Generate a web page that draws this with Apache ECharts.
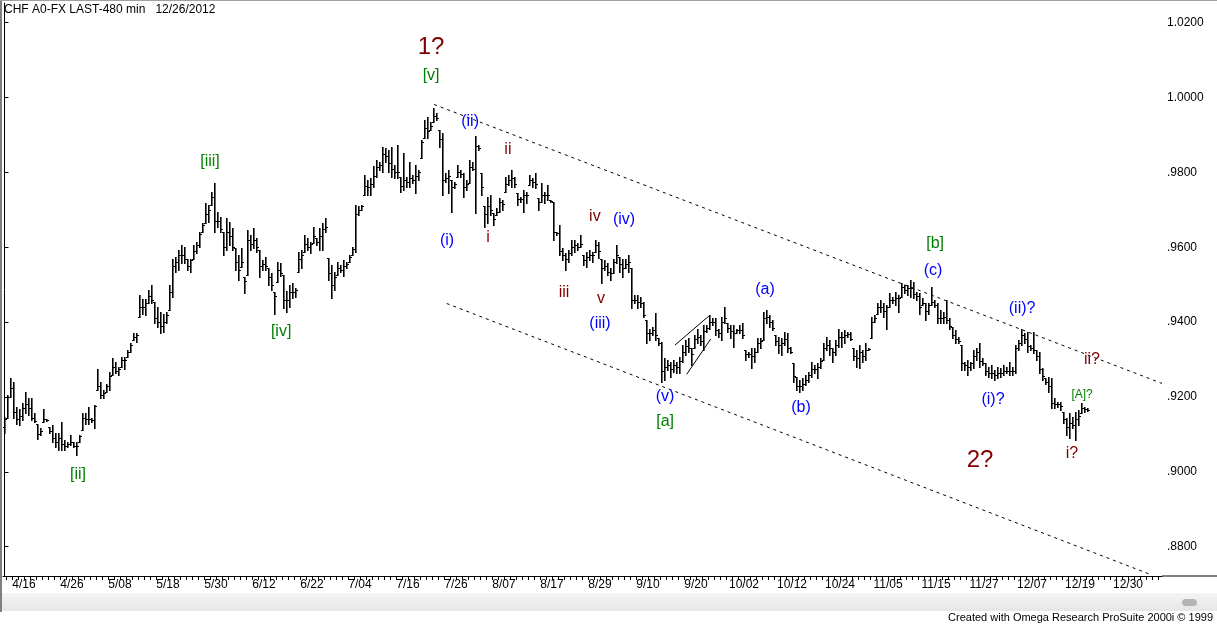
<!DOCTYPE html>
<html><head><meta charset="utf-8">
<script src="https://cdn.jsdelivr.net/npm/echarts@6/dist/echarts.min.js"></script>
<style>html,body{margin:0;padding:0;background:#fff;overflow:hidden}#c{width:1217px;height:625px}</style>
</head><body><div id="c"></div>
<script>
// ---------------- data ----------------
const chartTitle = 'CHF A0-FX LAST-480 min   12/26/2012';
const footerText = 'Created with Omega Research ProSuite 2000i \u00A9 1999';
const xTickLabels = ['4/16','4/26','5/08','5/18','5/30','6/12','6/22','7/04','7/16','7/26','8/07','8/17','8/29','9/10','9/20','10/02','10/12','10/24','11/05','11/15','11/27','12/07','12/19','12/30'];
const yTickValues = [0.88,0.90,0.92,0.94,0.96,0.98,1.00,1.02];

// price bars, in pips (1e-4), one bar per half trading day
const firstOpenPips = 9120;
const highPips = [
9147,9205,9250,9241,9174,9169,9183,9214,9196,9196,
9156,9129,9116,9169,9140,9120,9125,9103,9103,9134,
9085,9080,9098,9080,9080,9098,9156,9156,9174,9143,
9178,9274,9241,9218,9236,9267,9303,9294,9281,9308,
9308,9325,9343,9370,9370,9472,9463,9463,9486,9499,
9455,9441,9428,9423,9428,9499,9570,9575,9593,9606,
9602,9570,9570,9606,9615,9642,9664,9717,9713,9749,
9771,9695,9682,9642,9677,9668,9651,9597,9579,9597,
9521,9646,9633,9651,9624,9593,9566,9575,9544,9530,
9481,9561,9557,9526,9482,9499,9504,9490,9588,9593,
9633,9624,9615,9655,9624,9651,9664,9677,9571,9553,
9535,9562,9553,9566,9562,9580,9602,9713,9709,9713,
9793,9780,9784,9816,9833,9829,9869,9864,9860,9869,
9820,9873,9789,9851,9789,9829,9793,9820,9807,9887,
9940,9949,9936,9971,9958,9913,9905,9798,9807,9780,
9775,9820,9807,9798,9780,9833,9829,9896,9873,9798,
9709,9735,9740,9691,9704,9731,9726,9789,9793,9807,
9789,9744,9735,9753,9749,9793,9784,9798,9731,9771,
9749,9767,9726,9722,9642,9660,9597,9584,9593,9619,
9619,9611,9633,9580,9588,9593,9588,9619,9615,9570,
9566,9557,9544,9570,9606,9575,9570,9570,9579,9544,
9473,9473,9468,9455,9406,9383,9388,9424,9357,9348,
9303,9299,9294,9299,9294,9308,9339,9352,9357,9330,
9366,9383,9366,9392,9392,9419,9410,9410,9383,9415,
9441,9397,9392,9392,9383,9392,9397,9325,9321,9330,
9330,9357,9357,9428,9432,9419,9406,9366,9361,9357,
9374,9370,9334,9290,9254,9245,9250,9259,9268,9294,
9285,9290,9303,9343,9361,9352,9330,9352,9383,9374,
9379,9374,9374,9330,9326,9339,9326,9343,9330,9415,
9419,9450,9459,9450,9446,9477,9468,9481,9473,9504,
9499,9499,9513,9508,9481,9477,9464,9450,9450,9495,
9459,9450,9432,9428,9459,9410,9388,9379,9361,9339,
9294,9299,9294,9326,9330,9343,9303,9290,9281,9285,
9272,9281,9277,9285,9281,9294,9281,9339,9352,9383,
9370,9374,9339,9374,9326,9321,9277,9250,9254,9250,
9196,9187,9187,9161,9143,9156,9147,9161,9165,9183,
9174,9170];
const lowPips = [
9104,9143,9201,9143,9129,9125,9138,9156,9152,9138,
9134,9089,9098,9134,9136,9103,9080,9067,9058,9058,
9058,9067,9071,9067,9045,9080,9112,9129,9129,9134,
9116,9218,9196,9196,9214,9218,9259,9263,9259,9281,
9274,9308,9321,9352,9348,9414,9423,9419,9450,9450,
9397,9388,9370,9374,9397,9432,9468,9535,9539,9557,
9557,9539,9535,9570,9584,9602,9642,9664,9668,9713,
9642,9655,9642,9579,9593,9606,9593,9539,9512,9548,
9477,9526,9593,9597,9588,9521,9539,9539,9499,9486,
9423,9508,9522,9437,9428,9441,9464,9468,9535,9544,
9588,9593,9584,9611,9606,9593,9593,9642,9513,9464,
9486,9526,9535,9522,9544,9562,9580,9588,9686,9700,
9740,9740,9740,9762,9789,9807,9802,9829,9802,9789,
9784,9784,9749,9753,9762,9762,9771,9744,9780,9838,
9891,9891,9913,9936,9940,9869,9740,9775,9744,9695,
9758,9789,9789,9735,9753,9771,9807,9691,9860,9740,
9655,9664,9686,9660,9686,9695,9700,9749,9767,9762,
9762,9713,9722,9695,9717,9767,9762,9758,9700,9722,
9717,9726,9722,9620,9633,9580,9566,9539,9562,9579,
9588,9593,9602,9553,9548,9566,9562,9588,9571,9504,
9539,9526,9513,9530,9557,9535,9521,9544,9535,9437,
9450,9437,9441,9415,9343,9352,9366,9352,9339,9241,
9245,9272,9254,9268,9263,9263,9294,9312,9321,9285,
9330,9343,9339,9325,9374,9383,9392,9366,9361,9352,
9397,9374,9357,9334,9370,9370,9357,9299,9308,9277,
9294,9321,9330,9352,9397,9388,9379,9339,9317,9312,
9339,9321,9317,9241,9219,9214,9219,9232,9241,9254,
9263,9250,9277,9299,9325,9312,9294,9312,9334,9334,
9343,9361,9352,9299,9281,9277,9294,9299,9326,9357,
9401,9423,9428,9414,9383,9441,9450,9446,9428,9468,
9477,9473,9468,9464,9459,9423,9446,9406,9423,9446,
9441,9397,9397,9397,9397,9383,9357,9343,9343,9272,
9272,9259,9272,9277,9299,9281,9285,9259,9254,9250,
9245,9250,9254,9259,9263,9259,9259,9263,9326,9339,
9343,9321,9326,9317,9299,9263,9245,9236,9214,9170,
9170,9174,9165,9130,9098,9090,9116,9085,9125,9156,
9161,9163];
const closePips = [
9140,9200,9225,9160,9140,9150,9170,9180,9170,9145,
9135,9100,9110,9140,9138,9110,9090,9080,9090,9075,
9070,9075,9080,9070,9070,9095,9145,9140,9140,9138,
9175,9230,9205,9210,9230,9255,9280,9270,9275,9300,
9300,9320,9340,9360,9365,9440,9440,9450,9470,9460,
9410,9400,9390,9400,9420,9480,9550,9560,9580,9580,
9570,9550,9565,9590,9605,9635,9660,9690,9700,9735,
9670,9670,9650,9600,9640,9630,9600,9560,9540,9560,
9510,9620,9610,9620,9600,9550,9555,9550,9520,9500,
9470,9540,9530,9460,9460,9480,9480,9485,9570,9580,
9610,9600,9610,9630,9615,9630,9650,9655,9530,9500,
9520,9545,9540,9550,9555,9575,9595,9690,9700,9710,
9765,9760,9770,9790,9815,9820,9850,9845,9825,9810,
9800,9800,9765,9780,9775,9785,9780,9790,9800,9880,
9920,9910,9925,9950,9945,9890,9780,9785,9790,9760,
9770,9800,9795,9760,9770,9815,9810,9870,9865,9760,
9690,9710,9700,9675,9695,9720,9715,9770,9780,9785,
9770,9730,9728,9740,9740,9780,9775,9770,9720,9740,
9740,9740,9724,9640,9638,9590,9580,9570,9585,9600,
9605,9600,9610,9565,9575,9580,9580,9605,9590,9545,
9550,9535,9530,9560,9580,9555,9545,9555,9560,9460,
9460,9455,9450,9420,9370,9370,9380,9365,9345,9270,
9280,9285,9275,9285,9280,9295,9320,9335,9330,9315,
9355,9360,9350,9375,9385,9400,9400,9380,9370,9400,
9410,9385,9375,9370,9378,9380,9365,9315,9315,9310,
9320,9345,9350,9410,9415,9400,9385,9350,9340,9345,
9355,9330,9320,9255,9230,9230,9235,9245,9260,9275,
9275,9280,9295,9330,9340,9330,9320,9340,9360,9360,
9365,9368,9355,9310,9305,9320,9310,9325,9328,9400,
9410,9440,9440,9430,9440,9460,9460,9465,9465,9495,
9485,9490,9490,9475,9470,9440,9450,9430,9445,9455,
9445,9410,9410,9415,9405,9390,9365,9355,9350,9290,
9285,9280,9290,9310,9320,9295,9290,9270,9265,9265,
9260,9265,9265,9270,9270,9270,9270,9330,9345,9365,
9355,9335,9330,9325,9310,9275,9255,9240,9230,9185,
9180,9180,9175,9140,9120,9130,9125,9140,9150,9170,
9168,9166];

// wave annotations: text, bar position (half-days), price, style
const annoText  = ['1?','[v]','[iii]','[iv]','[ii]','(ii)','(i)','i','ii','iii','iv','v','(iv)','(iii)','(v)','[a]','(a)','(b)','[b]','(c)','(ii)?','(i)?','ii?','[A]?','i?','2?'];
const annoPos   = [142.2,142.2,68.5,92.2,24.5,155.2,147.5,161.2,167.8,186.5,196.8,198.8,206.5,198.5,220.2,220.2,253.5,265.5,310.2,309.5,339.2,329.5,362.5,359.2,355.8,325.2];
const annoPrice = [1.0135,1.0060,0.9828,0.9374,0.8994,0.9937,0.9619,0.9625,0.9860,0.9478,0.9681,0.9462,0.9675,0.9395,0.9200,0.9133,0.9486,0.9171,0.9611,0.9539,0.9435,0.9192,0.9299,0.9207,0.9048,0.9032];
const annoKind  = ['big','green','green','green','green','blue','blue','red','red','red','red','red','blue','blue','blue','green','blue','blue','green','blue','blue','blue','red','small','red','big'];

// channel lines [pos, price] pairs
const upperChannel = [[143.2,0.99815],[385.83,0.92363]];
const lowerChannel = [[147.4,0.94498],[382.17,0.87253]];
const wedgeUpper = [[223.5,0.93389],[234.8,0.94164]];
const wedgeLower = [[227.4,0.92606],[235.4,0.93549]];

// ---------------- chart ----------------
const FONT = '"Liberation Sans", Arial, sans-serif';
const bars = highPips.map((h, k) => {
  const prevC = k === 0 ? firstOpenPips : closePips[k - 1];
  const o = Math.min(h, Math.max(lowPips[k], prevC));
  return [k, o / 1e4, h / 1e4, lowPips[k] / 1e4, closePips[k] / 1e4];
});
const annoStyles = {
  big:   {color: '#800000', size: 24},
  red:   {color: '#800000', size: 16},
  green: {color: '#008000', size: 16},
  blue:  {color: '#0000ff', size: 16},
  small: {color: '#008000', size: 12}
};
const annoData = annoText.map((t, i) => [annoPos[i], annoPrice[i], i]);

const X_MIN = -0.5, X_MAX = 385.8333;
const Y_MIN = 0.872177, Y_MAX = 1.025263;
const labelPositions = xTickLabels.map((_, j) => 6.5 + 16 * j);
const dayTicks = [];
for (let m = 0; 0.5 + 2 * m <= 385; m++) dayTicks.push(0.5 + 2 * m);

const chart = echarts.init(document.getElementById('c'), null, {renderer: 'canvas'});
function lineSeries(pts, dash) {
  return {type: 'line', data: pts, symbol: 'none', silent: true, animation: false,
    lineStyle: {color: '#000', width: 1, type: dash ? [3, 4] : 'solid'}, z: 3};
}
chart.setOption({
  animation: false,
  backgroundColor: '#fff',
  grid: {left: 3, right: 55, top: 3, bottom: 49, containLabel: false},
  xAxis: {
    type: 'value', min: X_MIN, max: X_MAX,
    axisLine: {show: true, lineStyle: {color: '#000', width: 1}},
    axisTick: {show: true, length: 4, customValues: dayTicks, lineStyle: {color: '#000'}},
    axisLabel: {show: true, customValues: labelPositions, margin: 3, color: '#000', fontSize: 12, fontFamily: FONT,
      formatter: v => xTickLabels[Math.round((v - 6.5) / 16)] || ''},
    splitLine: {show: false}
  },
  yAxis: {
    type: 'value', position: 'right', min: Y_MIN, max: Y_MAX,
    axisLine: {show: true, lineStyle: {color: '#000', width: 1}},
    axisTick: {show: true, length: 4, customValues: yTickValues, lineStyle: {color: '#000'}},
    axisLabel: {show: true, customValues: yTickValues, margin: 5, color: '#000', fontSize: 12, fontFamily: FONT,
      formatter: v => { const s = v.toFixed(4); return v < 1 ? s.replace(/^0/, '') : s; }},
    splitLine: {show: false}
  },
  series: [
    {
      type: 'custom', data: bars, silent: true, clip: true, z: 2,
      renderItem: function (params, api) {
        const t = api.value(0);
        const po = api.coord([t, api.value(1)]);
        const ph = api.coord([t, api.value(2)]);
        const pl = api.coord([t, api.value(3)]);
        const pc = api.coord([t, api.value(4)]);
        const xc = Math.floor(ph[0]);
        const yt = Math.round(ph[1]), yb = Math.round(pl[1]);
        return {type: 'group', children: [
          {type: 'rect', shape: {x: xc, y: yt, width: 1.6, height: Math.max(1, yb - yt + 1)}, style: {fill: '#000'}},
          {type: 'rect', shape: {x: xc - 1, y: Math.round(po[1]), width: 1, height: 1}, style: {fill: '#000'}},
          {type: 'rect', shape: {x: xc + 1, y: Math.round(pc[1]), width: 2, height: 1}, style: {fill: '#000'}}
        ]};
      }
    },
    lineSeries(upperChannel, true),
    lineSeries(lowerChannel, true),
    lineSeries(wedgeUpper, false),
    lineSeries(wedgeLower, false),
    {
      type: 'custom', data: annoData, silent: true, clip: false, z: 5,
      renderItem: function (params, api) {
        const p = api.coord([api.value(0), api.value(1)]);
        const i = api.value(2);
        const st = annoStyles[annoKind[i]];
        return {type: 'text', x: p[0], y: p[1], style: {
          text: annoText[i], fill: st.color, font: st.size + 'px ' + FONT,
          align: 'center', verticalAlign: 'middle'}};
      }
    }
  ],
  graphic: [
    {type: 'rect', shape: {x: 0, y: 593, width: 1217, height: 18}, style: {fill: new echarts.graphic.LinearGradient(0, 0, 0, 1, [{offset: 0, color: '#f4f4f4'}, {offset: 1, color: '#e6e6e6'}])}, z: 0},
    {type: 'rect', shape: {x: 1182, y: 599, width: 15, height: 7, r: 3.5}, style: {fill: '#b4b4b4'}, z: 1},
    {type: 'rect', shape: {x: 0, y: 0, width: 2, height: 612}, style: {fill: '#808080'}, z: 1},
    {type: 'rect', shape: {x: 0, y: 0, width: 1217, height: 1}, style: {fill: '#a0a0a0'}, z: 1},
    {type: 'rect', shape: {x: 1162, y: 575.5, width: 55, height: 1}, style: {fill: '#000'}, z: 1},
    {type: 'text', x: 4, y: 4, style: {text: chartTitle, fill: '#000', font: '12px ' + FONT}, z: 5},
    {type: 'text', x: 1213, y: 618, style: {text: footerText, fill: '#000', font: '11px ' + FONT, align: 'right', verticalAlign: 'middle'}, z: 5}
  ]
});
</script>
</body></html>
